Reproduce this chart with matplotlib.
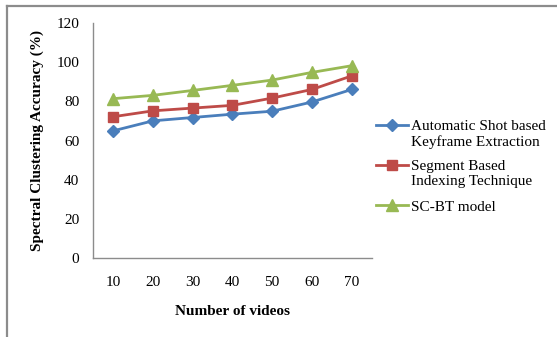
import numpy as np
import matplotlib
matplotlib.use("Agg")
import matplotlib.pyplot as plt
from matplotlib.lines import Line2D
from matplotlib.legend_handler import HandlerLine2D

# data
videos = ["10", "20", "30", "40", "50", "60", "70"]
automatic_shot = [65.0, 70.1, 71.8, 73.5, 75.0, 79.7, 86.1]
segment_based = [72.2, 75.2, 76.6, 78.0, 81.7, 86.1, 93.0]
sc_bt_model = [81.4, 83.1, 85.6, 88.2, 90.9, 94.8, 98.2]

series_labels = [
    "Automatic Shot based\nKeyframe Extraction",
    "Segment Based\nIndexing Technique",
    "SC-BT model",
]


class FirstLineHandler(HandlerLine2D):
    """Puts the legend key level with the first line of a two-line label."""

    def __init__(self, shift, **kw):
        super().__init__(**kw)
        self.shift = shift

    def create_artists(self, legend, orig_handle, xdescent, ydescent,
                       width, height, fontsize, trans):
        return super().create_artists(legend, orig_handle, xdescent,
                                      ydescent - 2 * self.shift, width,
                                      height, fontsize, trans)


plt.rcParams["font.family"] = ["Liberation Serif", "DejaVu Serif"]

fig = plt.figure(figsize=(5.57, 3.37), dpi=100)
ax = fig.add_axes([0.1675, 0.2335, 0.4995, 0.6983])

x = np.arange(len(videos))
l1, = ax.plot(x, automatic_shot, color="#4A7EBB", lw=2.0, marker="D", ms=6.5,
              label=series_labels[0])
l2, = ax.plot(x, segment_based, color="#BE4B48", lw=2.0, marker="s", ms=7.5,
              label=series_labels[1])
l3, = ax.plot(x, sc_bt_model, color="#98B954", lw=2.0, marker="^", ms=8,
              label=series_labels[2])

ax.set_xlim(-0.5, len(videos) - 0.5)
ax.set_ylim(0, 120)
ax.set_yticks(np.arange(0, 121, 20))
ax.set_xticks(x)
ax.set_xticklabels(videos)
ax.tick_params(axis="both", length=0, labelsize=11)
ax.tick_params(axis="y", pad=10)
ax.tick_params(axis="x", pad=13)

for side in ["top", "right"]:
    ax.spines[side].set_visible(False)
for side in ["left", "bottom"]:
    ax.spines[side].set_color("#8c8c8c")
    ax.spines[side].set_linewidth(1.0)

ax.set_xlabel("Number of videos", fontsize=11, fontweight="bold", labelpad=11)
ax.set_ylabel("Spectral Clustering Accuracy (%)", fontsize=11,
              fontweight="bold", labelpad=9)

shift = 6.5
leg = fig.legend(loc="center left", bbox_to_anchor=(0.651, 0.505),
                 frameon=False, fontsize=11, numpoints=1, handlelength=2.1,
                 handletextpad=0.2, labelspacing=0.75,
                 handler_map={l1: FirstLineHandler(shift),
                              l2: FirstLineHandler(shift)})
for t in leg.get_texts():
    t.set_linespacing(1.2)

# outer frame, only top and left edges
fig.add_artist(Line2D([7 / 557, 1.0], [1 - 5.5 / 337, 1 - 5.5 / 337],
                      transform=fig.transFigure, color="#8c8c8c", lw=1.6))
fig.add_artist(Line2D([7 / 557, 7 / 557], [0.0, 1 - 5.5 / 337],
                      transform=fig.transFigure, color="#8c8c8c", lw=1.6))

fig.savefig("out.png", dpi=100)
